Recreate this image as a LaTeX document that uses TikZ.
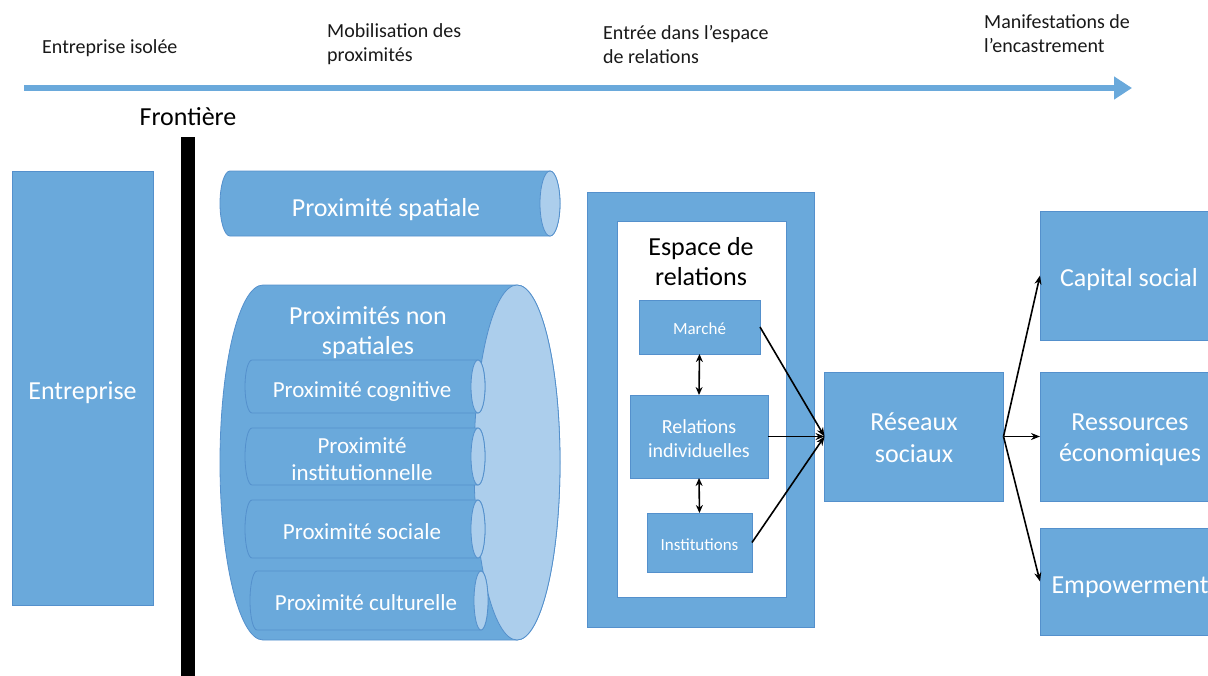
\documentclass[tikz,border=0pt]{standalone}
\usepackage{fontspec}
\setmainfont{Carlito}
\usetikzlibrary{arrows.meta}
\definecolor{boxblue}{RGB}{106,169,219}
\definecolor{edgeblue}{RGB}{84,144,204}
\definecolor{lightblue}{RGB}{172,206,236}
\definecolor{txtdark}{RGB}{25,25,25}
\newcommand{\hcylinder}[5]{%
  \pgfmathsetmacro{\cyc}{(#2+#4)/2}%
  \pgfmathsetmacro{\cry}{(#4-#2)/2}%
  \draw[cylbody] ({#1+#5},#2) arc[start angle=270,end angle=90,x radius=#5,y radius=\cry]
     -- ({#3-#5},#4) arc[start angle=90,end angle=-90,x radius=#5,y radius=\cry] -- cycle;
  \draw[cylend] ({#3-#5},\cyc) ellipse[x radius=#5,y radius=\cry];
}
\tikzset{
  cylbody/.style={fill=boxblue, draw=edgeblue, line width=0.8pt},
  cylend/.style={fill=lightblue, draw=edgeblue, line width=0.8pt},
  bluebox/.style={fill=boxblue, draw=edgeblue, line width=0.8pt, inner sep=0pt, outer sep=0pt},
  boxtxt/.style={text=white, align=center, inner sep=0pt, anchor=base, font=\fontsize{26}{31.5}\selectfont},
  smalltxt/.style={boxtxt, font=\fontsize{17}{21}\selectfont},
  midboxtxt/.style={boxtxt, font=\fontsize{20}{23.5}\selectfont},
  bigtxt/.style={text=white, align=center, inner sep=0pt, font=\fontsize{26}{30}\selectfont},
  midtxt/.style={text=white, align=center, inner sep=0pt, font=\fontsize{23}{27}\selectfont},
  toplabel/.style={text=txtdark, align=left, anchor=west, inner sep=0pt, font=\fontsize{20}{24}\selectfont},
  conn/.style={draw=black, line width=1.6pt, -{Stealth[length=9pt,width=7pt]}},
  dblconn/.style={draw=black, line width=1.6pt, {Stealth[length=8pt,width=7pt]}-{Stealth[length=8pt,width=7pt]}},
}
\begin{document}
\begin{tikzpicture}[x=1pt,y=-1pt]
\useasboundingbox (0,0) rectangle (1208,675);
\clip (0,0) rectangle (1208,675);

% timeline
\coordinate (tlstart) at (24,88);
\coordinate (tlend) at (1132,88);
\draw[boxblue, line width=6pt, -{Triangle[length=18pt,width=22pt]}] (tlstart) -- (tlend);
\node[toplabel] (t1) at (42,48) {Entreprise isolée};
\node[toplabel] (t2) at (327,44.5) {Mobilisation des\\proximités};
\node[toplabel] (t3) at (603,45) {Entrée dans l’espace\\de relations};
\node[toplabel] (t4) at (984,34) {Manifestations de\\l’encastrement};

% frontier
\node[text=black, inner sep=0pt, font=\fontsize{26}{30}\selectfont] (front) at (188,117) {Frontière};
\node[fill=black, minimum width=14pt, minimum height=540pt, inner sep=0pt] (frontbar) at (188,407) {};

% entreprise
\node[bluebox, minimum width=141pt, minimum height=434pt] (entreprise) at (82.5,388) {};
\node[boxtxt] (entreprisetxt) at (82.5,399.3) {Entreprise};

% cylinders
\hcylinder{220}{171}{560}{236}{10}
\node[bigtxt] (cylspat) at (386,210) {Proximité spatiale};
\hcylinder{220}{285}{560}{640}{43}
\node[bigtxt] (cylnon) at (368,332.5) {Proximités non\\spatiales};
\hcylinder{245}{360}{485}{413}{7}
\node[midtxt] (cylcog) at (362,392) {Proximité cognitive};
\hcylinder{245}{428}{485}{485}{7}
\node[midtxt] (cylinst) at (362,459) {Proximité\\institutionnelle};
\hcylinder{245}{500}{485}{558}{7}
\node[midtxt] (cylsoc) at (362,532) {Proximité sociale};
\hcylinder{250}{571}{488}{630}{7}
\node[midtxt] (cylcult) at (366,603) {Proximité culturelle};

% espace de relations
\node[bluebox, minimum width=227pt, minimum height=435pt] (espace) at (701,409.5) {};
\node[fill=white, draw=edgeblue, line width=0.8pt, minimum width=169pt, minimum height=376pt, inner sep=0pt] (espaceint) at (701.5,409) {};
\node[text=black, align=center, inner sep=0pt, font=\fontsize{26}{30}\selectfont] (espacetitle) at (701,261.5) {Espace de\\relations};
\node[bluebox, minimum width=121pt, minimum height=54pt] (marche) at (699.5,327) {};
\node[smalltxt] (marchetxt) at (699.5,334) {Marché};
\node[bluebox, minimum width=138pt, minimum height=83pt] (relind) at (699,436.5) {};
\node[midboxtxt] (relindtxt) at (699,457.2) {Relations\\individuelles};
\node[bluebox, minimum width=105pt, minimum height=59pt] (instit) at (699.5,542.5) {};
\node[smalltxt] (instittxt) at (699.5,550) {Institutions};

% reseaux
\node[bluebox, minimum width=179pt, minimum height=129pt] (reseaux) at (914,436.5) {};
\node[boxtxt] (reseauxtxt) at (914,462) {Réseaux\\sociaux};

% outcomes
\node[bluebox, minimum width=180pt, minimum height=129pt] (capital) at (1130,275.5) {};
\node[boxtxt] (capitaltxt) at (1129,286.7) {Capital social};
\node[bluebox, minimum width=180pt, minimum height=129pt] (ressources) at (1130,436.5) {};
\node[boxtxt] (ressourcestxt) at (1130,461.7) {Ressources\\économiques};
\node[bluebox, minimum width=180pt, minimum height=107pt] (empower) at (1130,581.5) {};
\node[boxtxt] (empowertxt) at (1130,593.3) {Empowerment};

% connectors
\draw[dblconn] (marche.south) -- (relind.north);
\draw[dblconn] (relind.south) -- (instit.north);
\draw[conn] (marche.east) -- (reseaux.west);
\draw[conn] (relind.east) -- (reseaux.west);
\draw[conn] (instit.east) -- (reseaux.west);
\draw[conn] (reseaux.east) -- (capital.west);
\draw[conn] (reseaux.east) -- (ressources.west);
\draw[conn] (reseaux.east) -- (empower.west);
\end{tikzpicture}
\end{document}
